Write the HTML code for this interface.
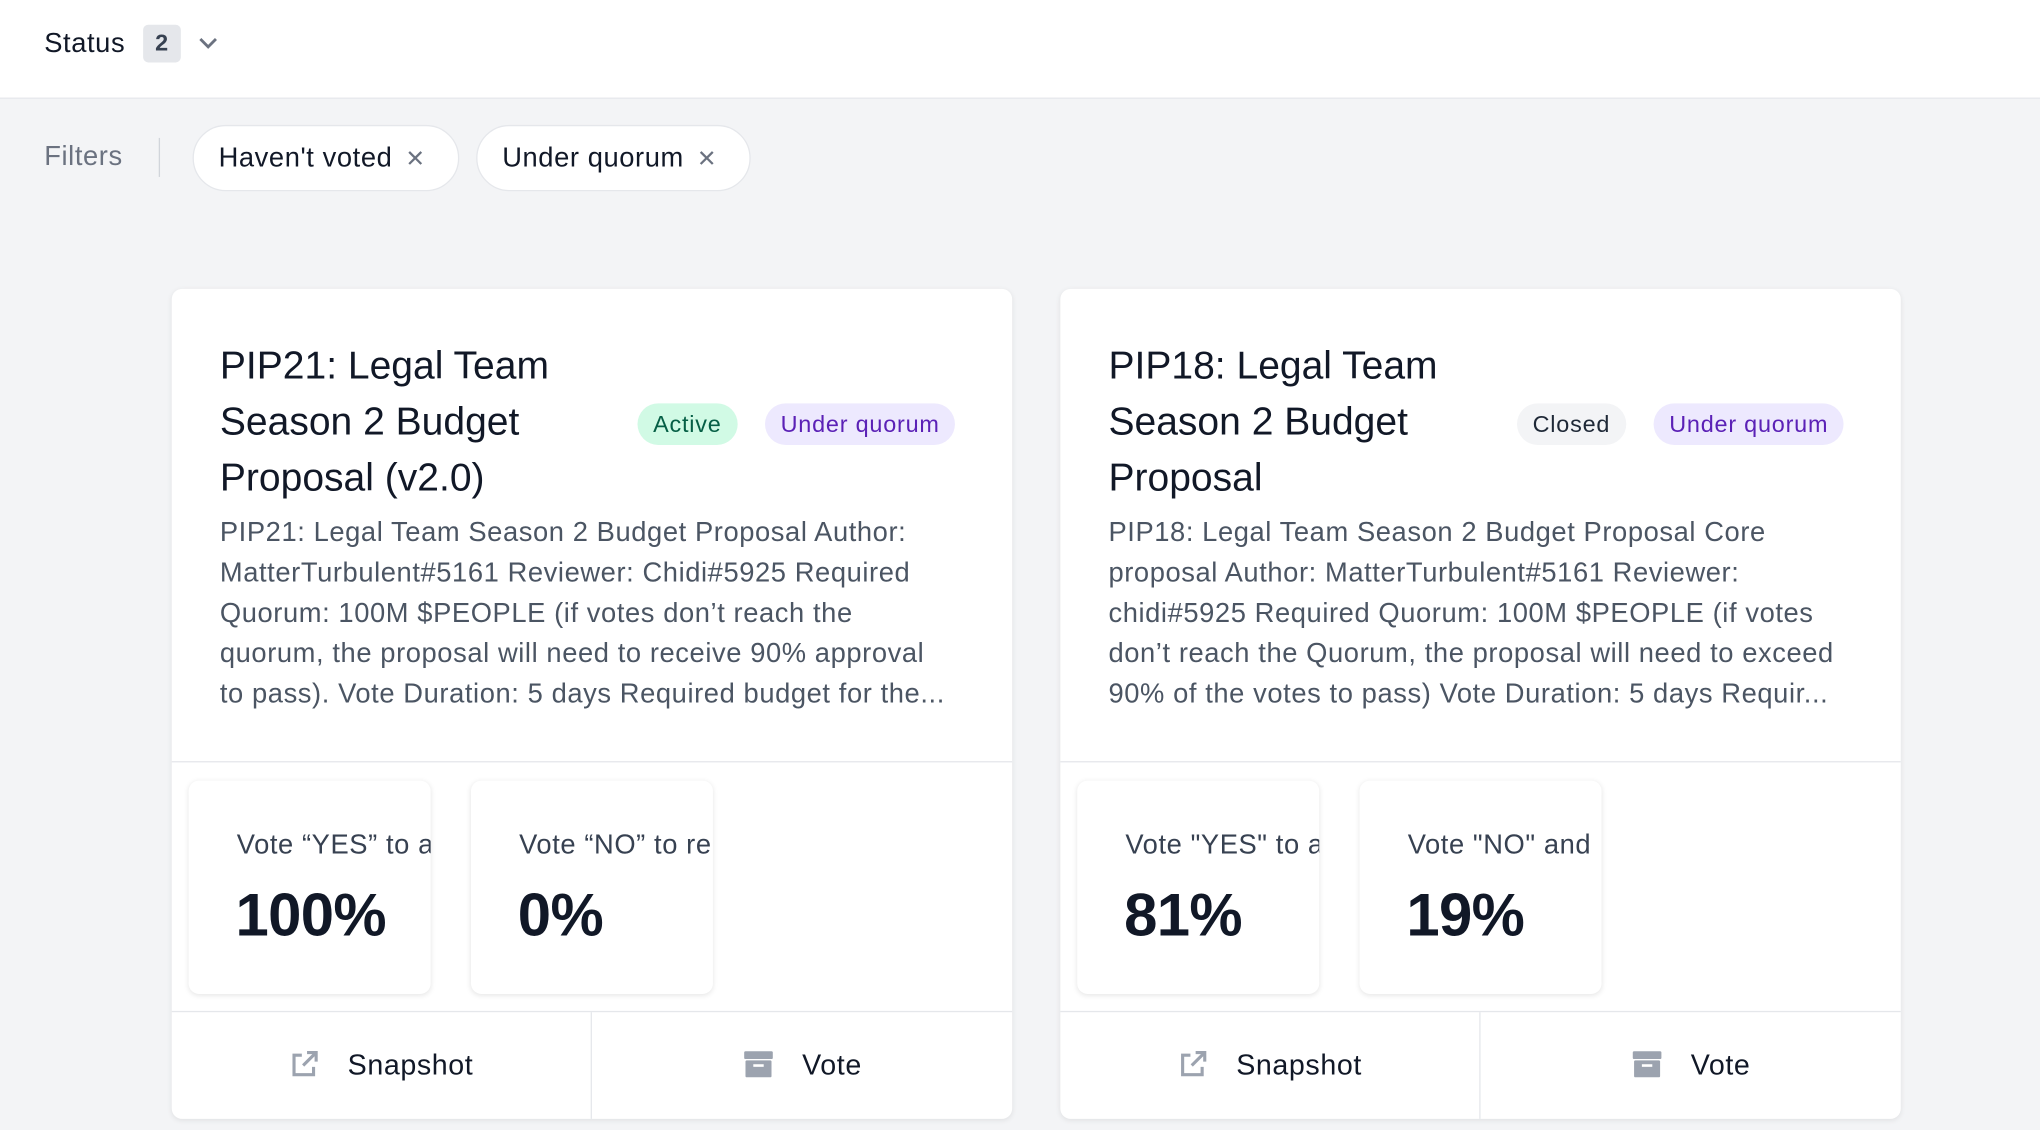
<!DOCTYPE html>
<html><head><meta charset="utf-8"><style>
*{box-sizing:border-box;margin:0;padding:0}
html,body{width:2040px;height:1130px;overflow:hidden;background:#f3f4f6}
#w{width:1568px;height:869px;transform:scale(1.30102);transform-origin:0 0;position:relative;font-family:"Liberation Sans",sans-serif;color:#111827;background:#f3f4f6;letter-spacing:0.45px}
.top{position:absolute;left:0;top:0;width:1568px;height:76px;background:#fff;border-bottom:1px solid #e5e7eb}
.abs{position:absolute}
.chip{position:absolute;top:96px;height:51px;background:#fff;border:1px solid #e5e7eb;border-radius:26px;font-size:21px;line-height:49px;padding-left:19px;color:#111827}
.chip span{color:#6b7280;margin-left:10px;font-size:18px}
.card{position:absolute;top:222px;width:646px;height:638px;background:#fff;border-radius:8px;box-shadow:0 1px 4px rgba(0,0,0,.08)}
.title{position:absolute;left:37px;top:38px;font-size:30px;line-height:43px;width:310px;color:#111827;letter-spacing:0}
.badge{position:absolute;top:88px;height:32px;line-height:32px;border-radius:16px;font-size:18px;padding:0 12px;letter-spacing:0.6px}
.desc{position:absolute;left:37px;top:172px;width:565px;font-size:21px;line-height:31px;color:#4b5563}
.hr{position:absolute;left:0;width:646px;height:1px;background:#e5e7eb}
.stat{position:absolute;top:378px;width:186px;height:164px;background:#fff;border-radius:8px;box-shadow:0 1px 4px rgba(0,0,0,.1);overflow:hidden;white-space:nowrap}
.stat .l{position:absolute;left:37px;top:38px;font-size:21px;color:#374151}
.stat .p{position:absolute;left:36px;top:76px;font-size:46px;font-weight:bold;color:#111827;letter-spacing:-0.5px}
.btn{position:absolute;top:556px;height:82px;width:323px;font-size:22px;line-height:82px;text-align:center;color:#111827}
.vl{position:absolute;left:322px;top:556px;width:1px;height:82px;background:#e5e7eb}
</style></head><body><div id="w">
<div class="top">
<div class="abs" style="left:34px;top:22px;font-size:21px;color:#111827">Status</div>
<div class="abs" style="left:110px;top:19px;width:29px;height:29px;background:#e5e7eb;border-radius:4px;font-size:18px;line-height:29px;text-align:center;color:#374151;font-weight:bold">2</div>
<svg class="abs" style="left:152px;top:27px" width="16" height="12" viewBox="0 0 16 12"><path d="M2 3l6 6 6-6" stroke="#6b7280" stroke-width="2.2" fill="none"/></svg>
</div>
<div class="abs" style="left:34px;top:109px;font-size:21px;color:#6b7280">Filters</div>
<div class="abs" style="left:122px;top:106px;width:1px;height:30px;background:#d1d5db"></div>
<div class="chip" style="left:148px;width:205px">Haven't voted<span>✕</span></div>
<div class="chip" style="left:366px;width:211px">Under quorum<span>✕</span></div>

<div class="card" style="left:132px">
<div class="title">PIP21: Legal Team Season 2 Budget Proposal (v2.0)</div>
<div class="badge" style="left:358px;background:#d1fae5;color:#065f46">Active</div>
<div class="badge" style="left:456px;background:#ede9fe;color:#5b21b6">Under quorum</div>
<div class="desc">PIP21: Legal Team Season 2 Budget Proposal Author: MatterTurbulent#5161 Reviewer: Chidi#5925 Required Quorum: 100M $PEOPLE (if votes don’t reach the quorum, the proposal will need to receive 90% approval to pass). Vote Duration: 5 days Required budget for the...</div>
<div class="hr" style="top:363px"></div>
<div class="stat" style="left:13px"><div class="l">Vote “YES” to a</div><div class="p">100%</div></div>
<div class="stat" style="left:230px"><div class="l">Vote “NO” to re</div><div class="p">0%</div></div>
<div class="hr" style="top:555px"></div>
<div class="btn" style="left:0"><svg width="22" height="22" style="vertical-align:-3px;margin-right:22px" viewBox="0 0 22 22"><path d="M9 4H3v15h15v-6M13 2h7v7M20 2L10 12" stroke="#9ca3af" stroke-width="2.4" fill="none"/></svg>Snapshot</div>
<div class="vl"></div>
<div class="btn" style="left:323px"><svg width="24" height="22" style="vertical-align:-3px;margin-right:22px" viewBox="0 0 24 22"><rect x="1" y="1" width="22" height="6" rx="1" fill="#9ca3af"/><rect x="2" y="8" width="20" height="13" rx="1" fill="#9ca3af"/><rect x="8" y="11" width="8" height="2" fill="#fff"/></svg>Vote</div>
</div>

<div class="card" style="left:815px">
<div class="title">PIP18: Legal Team Season 2 Budget Proposal</div>
<div class="badge" style="left:351px;background:#f3f4f6;color:#1f2937">Closed</div>
<div class="badge" style="left:456px;background:#ede9fe;color:#5b21b6">Under quorum</div>
<div class="desc">PIP18: Legal Team Season 2 Budget Proposal Core proposal Author: MatterTurbulent#5161 Reviewer: chidi#5925 Required Quorum: 100M $PEOPLE (if votes don’t reach the Quorum, the proposal will need to exceed 90% of the votes to pass) Vote Duration: 5 days Requir...</div>
<div class="hr" style="top:363px"></div>
<div class="stat" style="left:13px"><div class="l">Vote "YES" to a</div><div class="p">81%</div></div>
<div class="stat" style="left:230px"><div class="l">Vote "NO" and</div><div class="p">19%</div></div>
<div class="hr" style="top:555px"></div>
<div class="btn" style="left:0"><svg width="22" height="22" style="vertical-align:-3px;margin-right:22px" viewBox="0 0 22 22"><path d="M9 4H3v15h15v-6M13 2h7v7M20 2L10 12" stroke="#9ca3af" stroke-width="2.4" fill="none"/></svg>Snapshot</div>
<div class="vl"></div>
<div class="btn" style="left:323px"><svg width="24" height="22" style="vertical-align:-3px;margin-right:22px" viewBox="0 0 24 22"><rect x="1" y="1" width="22" height="6" rx="1" fill="#9ca3af"/><rect x="2" y="8" width="20" height="13" rx="1" fill="#9ca3af"/><rect x="8" y="11" width="8" height="2" fill="#fff"/></svg>Vote</div>
</div>
</div></body></html>
